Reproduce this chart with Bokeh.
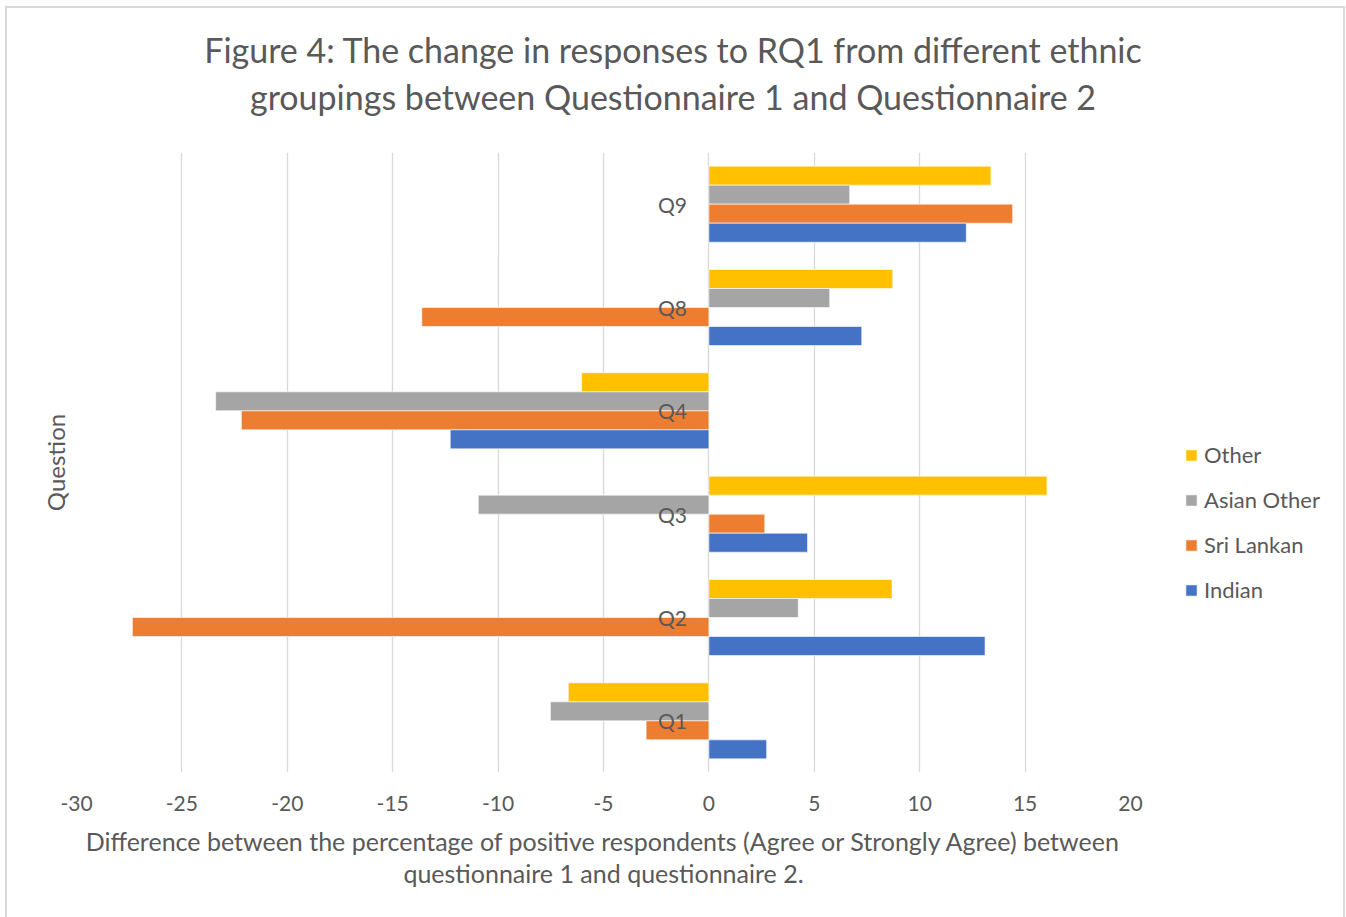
from bokeh.plotting import figure
from bokeh.layouts import column
from bokeh.models import (ColumnDataSource, FactorRange, FixedTicker, Legend, LegendItem,
                          Title, Div)
from bokeh.transform import dodge
from bokeh.core.properties import value
from bokeh.embed import file_html
from bokeh.resources import INLINE

# Questions (bottom to top) and change in % positive responses per ethnic group
questions = ["Q1", "Q2", "Q3", "Q4", "Q8", "Q9"]
indian = [2.74, 13.1, 4.68, -12.27, 7.25, 12.21]
sri_lankan = [-2.98, -27.35, 2.65, -22.18, -13.62, 14.41]
asian_other = [-7.52, 4.24, -10.94, -23.4, 5.73, 6.68]
other = [-6.67, 8.69, 16.04, -6.04, 8.72, 13.38]
x_ticks = [-30, -25, -20, -15, -10, -5, 0, 5, 10, 15, 20]

title_lines = ["Figure 4: The change in responses to RQ1 from different ethnic",
               "groupings between Questionnaire 1 and Questionnaire 2"]
x_title = ("Difference between the percentage of positive respondents (Agree or Strongly Agree) between\n"
           "questionnaire 1 and questionnaire 2.")

FONT = "Lato"
TEXT = "#595959"
GRID = "#d9d9d9"
W, HEAD_H = 1346, 130

src = ColumnDataSource(dict(q=questions, indian=indian, sri=sri_lankan,
                            asian=asian_other, other=other))

# light chart border drawn as thin CSS background strips (left, right, top)
strip = "linear-gradient(%s,%s)" % (GRID, GRID)
side_bg = "%s 5px 0/2px 100%% no-repeat, %s 1343px 0/2px 100%% no-repeat" % (strip, strip)
head_bg = ("%s 5px 6px/1340px 2px no-repeat, %s 5px 6px/2px 100%% no-repeat, "
           "%s 1343px 6px/2px 100%% no-repeat") % (strip, strip, strip)

p = figure(y_range=FactorRange(factors=questions, range_padding=0),
           x_range=(-30, 20),
           frame_width=1054, frame_height=620,
           min_border_left=76, min_border_right=216,
           min_border_top=22, min_border_bottom=145,
           output_backend="svg", toolbar_location=None,
           styles={"background": side_bg})
p.outline_line_color = None
p.background_fill_color = "white"
p.border_fill_color = None

bar_h = 0.184
series = [("Other", "other", "#FFC000", 1.5),
          ("Asian Other", "asian", "#A5A5A5", 0.5),
          ("Sri Lankan", "sri", "#ED7D31", -0.5),
          ("Indian", "indian", "#4472C4", -1.5)]
rends = {}
for name, col, color, k in series:
    rends[name] = p.hbar(y=dodge("q", k * bar_h, range=p.y_range), right=col, left=0,
                         height=bar_h, source=src, fill_color=color,
                         line_color="white", line_width=0.6)

# Category labels sit beside the vertical axis at zero
p.text(x=0, y="q", text="q", source=src, x_offset=-22, text_align="right",
       text_baseline="middle", text_font=value(FONT), text_font_size="21px",
       text_color=TEXT)

# x axis with a two-line caption
p.xaxis.ticker = FixedTicker(ticks=x_ticks)
p.xaxis.major_label_overrides = {t: str(t) for t in x_ticks}
p.xaxis.axis_line_color = None
p.xaxis.major_tick_line_color = None
p.xaxis.minor_tick_line_color = None
p.xaxis.major_tick_out = 0
p.xaxis.major_label_standoff = 23
p.xaxis.major_label_text_font = FONT
p.xaxis.major_label_text_font_size = "21px"
p.xaxis.major_label_text_color = TEXT
p.xaxis.axis_label = x_title
p.xaxis.axis_label_text_font = FONT
p.xaxis.axis_label_text_font_style = "normal"
p.xaxis.axis_label_text_font_size = "25px"
p.xaxis.axis_label_text_color = TEXT
p.xaxis.axis_label_text_line_height = 1.07
p.xaxis.axis_label_standoff = 12

# vertical axis: only its title is shown
p.yaxis.visible = False
p.add_layout(Title(text="Question", align="center", text_font=FONT,
                   text_font_size="24px", text_font_style="normal",
                   text_color=TEXT, standoff=13), "left")

p.xgrid.ticker = FixedTicker(ticks=x_ticks)
p.xgrid.grid_line_color = GRID
p.xgrid.grid_line_width = 1.3
p.ygrid.grid_line_color = None

legend = Legend(items=[LegendItem(label=n, renderers=[rends[n]]) for n, *_ in series],
                location=(54, 169), orientation="vertical",
                glyph_width=14, glyph_height=14, label_standoff=6,
                label_height=20, spacing=18, padding=0, margin=0,
                border_line_color=None, background_fill_alpha=0,
                label_text_font=FONT, label_text_font_size="22px",
                label_text_color=TEXT)
p.add_layout(legend, "right")

heading = Div(
    text=('<div style="width:%dpx;text-align:center;font-family:Lato;font-size:34px;'
          'color:%s;line-height:47px;padding-top:26px;">%s<br>%s</div>'
          % (W, TEXT, title_lines[0], title_lines[1])),
    width=W, height=HEAD_H, margin=(0, 0, 0, 0),
    styles={"background": head_bg})

chart = column(heading, p, spacing=0)

open("out.html", "w").write(file_html(chart, INLINE))
